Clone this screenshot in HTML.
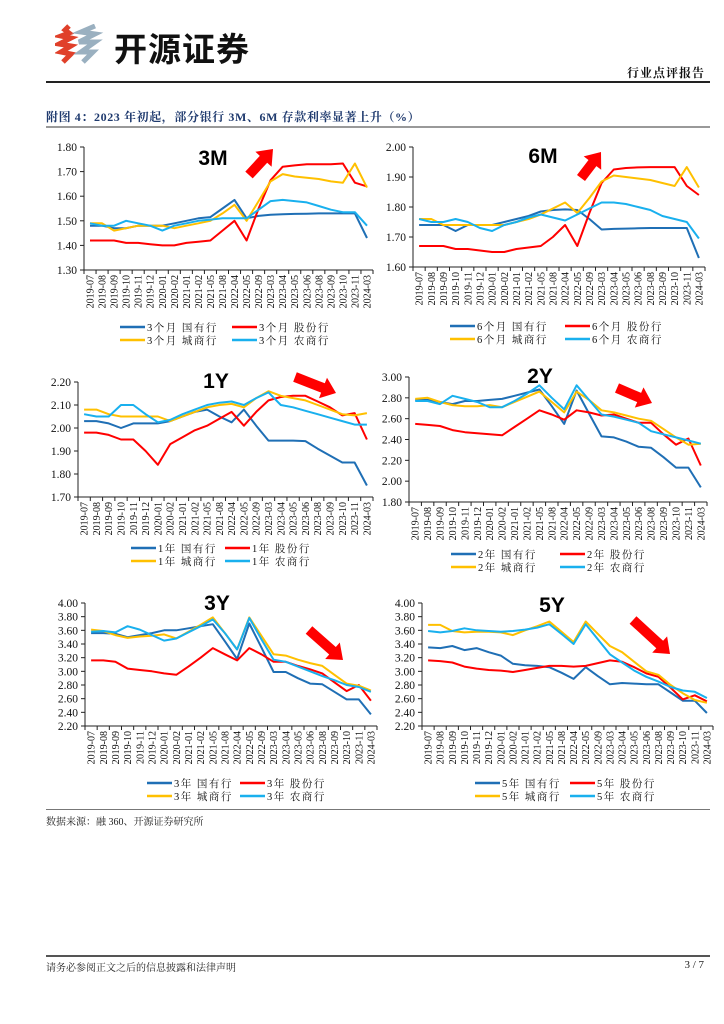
<!DOCTYPE html>
<html><head><meta charset="utf-8">
<style>
body{margin:0;background:#fff;}
#page{position:relative;width:724px;height:1024px;overflow:hidden;background:#fff;font-family:"Liberation Serif","Noto Serif CJK SC",serif;}
.abs{position:absolute;}
</style></head>
<body>
<div id="page">
<svg class="abs" style="left:55px;top:24px" width="50" height="42">
  <path d="M14 2 L10 6 L14 9 L6 12 L16 14 L4 20 L16 22 L6 28 L16 30 L8 38" stroke="#e0402a" stroke-width="5" fill="none"/>
  <path d="M40 2 L26 8 L40 10 L24 18 L40 18 L26 28 L38 28 L28 38" stroke="#9ab0c0" stroke-width="5" fill="none"/>
</svg>
<div class="abs" style="left:114px;top:23px;font:bold 33px 'Noto Sans CJK SC',sans-serif;letter-spacing:1px;color:#111;">开源证券</div>
<div class="abs" style="right:19px;top:64px;font:bold 12px 'Noto Serif CJK SC',serif;color:#111;letter-spacing:1px;">行业点评报告</div>
<div class="abs" style="left:46px;top:81px;width:664px;height:1.5px;background:#222;"></div>
<div class="abs" style="left:46px;top:108px;font:bold 12px 'Liberation Serif','Noto Serif CJK SC',serif;color:#1f3a6e;letter-spacing:0.6px;">附图 4：2023 年初起，部分银行 3M、6M 存款利率显著上升（%）</div>
<div class="abs" style="left:46px;top:126px;width:664px;height:1.5px;background:#999;"></div>
<svg id="charts" class="abs" style="left:0;top:0" width="724" height="840"></svg>
<div class="abs" style="left:46px;top:809px;width:664px;height:1px;background:#777;"></div>
<div class="abs" style="left:46px;top:813px;font:10px 'Liberation Serif','Noto Serif CJK SC',serif;color:#222;">数据来源：融 360、开源证券研究所</div>
<div class="abs" style="left:46px;top:955px;width:664px;height:1.5px;background:#555;"></div>
<div class="abs" style="left:46px;top:959px;font:10px 'Noto Serif CJK SC',serif;color:#222;">请务必参阅正文之后的信息披露和法律声明</div>
<div class="abs" style="right:20px;top:959px;font:11px 'Liberation Serif',serif;color:#222;">3 / 7</div>
</div>
<script>
const categories=["2019-07","2019-08","2019-09","2019-10","2019-11","2019-12","2020-01","2020-02","2021-01","2021-02","2021-05","2021-08","2022-04","2022-05","2022-09","2023-03","2023-04","2023-05","2023-06","2023-08","2023-09","2023-10","2023-11","2024-03"];
const bankTypes=["国有行","股份行","城商行","农商行"];
const seriesColors=["#1f6fb5","#ff0000","#ffc000","#19b0ee"];
const ticks3M=["1.30","1.40","1.50","1.60","1.70","1.80"];
const ticks6M=["1.60","1.70","1.80","1.90","2.00"];
const ticks1Y=["1.70","1.80","1.90","2.00","2.10","2.20"];
const ticks2Y=["1.80","2.00","2.20","2.40","2.60","2.80","3.00"];
const ticks3Y=["2.20","2.40","2.60","2.80","3.00","3.20","3.40","3.60","3.80","4.00"];
const ticks5Y=["2.20","2.40","2.60","2.80","3.00","3.20","3.40","3.60","3.80","4.00"];
const m3Guo=[1.48,1.48,1.47,1.47,1.48,1.48,1.48,1.49,1.50,1.51,1.515,1.55,1.585,1.51,1.52,1.525,1.527,1.528,1.529,1.53,1.53,1.53,1.53,1.43];
const m3Gufen=[1.42,1.42,1.42,1.41,1.41,1.405,1.40,1.40,1.41,1.415,1.42,1.46,1.50,1.42,1.55,1.665,1.72,1.725,1.73,1.73,1.73,1.733,1.655,1.64];
const m3City=[1.49,1.49,1.46,1.47,1.48,1.48,1.48,1.47,1.48,1.49,1.50,1.53,1.565,1.50,1.58,1.66,1.69,1.68,1.675,1.67,1.66,1.655,1.733,1.635];
const m3Rural=[1.49,1.48,1.48,1.50,1.49,1.48,1.46,1.48,1.49,1.50,1.505,1.51,1.51,1.51,1.545,1.58,1.585,1.58,1.575,1.56,1.545,1.535,1.535,1.48];
const m6Guo=[1.74,1.74,1.74,1.72,1.74,1.74,1.74,1.75,1.76,1.77,1.785,1.79,1.792,1.79,1.76,1.725,1.727,1.728,1.729,1.73,1.73,1.73,1.73,1.63];
const m6Gufen=[1.67,1.67,1.67,1.66,1.66,1.655,1.65,1.65,1.66,1.665,1.67,1.70,1.74,1.67,1.78,1.88,1.925,1.93,1.932,1.933,1.933,1.933,1.87,1.84];
const m6City=[1.76,1.76,1.74,1.74,1.74,1.74,1.74,1.74,1.75,1.76,1.775,1.795,1.815,1.78,1.83,1.885,1.905,1.90,1.895,1.89,1.88,1.87,1.933,1.865];
const m6Rural=[1.76,1.75,1.75,1.76,1.75,1.73,1.72,1.74,1.75,1.765,1.775,1.765,1.755,1.775,1.795,1.815,1.815,1.81,1.80,1.79,1.77,1.76,1.75,1.695];
const y1Guo=[2.03,2.03,2.02,2.00,2.02,2.02,2.02,2.03,2.05,2.07,2.08,2.05,2.025,2.08,2.01,1.945,1.945,1.945,1.943,1.91,1.88,1.85,1.85,1.75];
const y1Gufen=[1.98,1.98,1.97,1.95,1.95,1.90,1.84,1.93,1.96,1.99,2.01,2.04,2.07,2.01,2.07,2.12,2.135,2.14,2.14,2.115,2.09,2.055,2.065,1.95];
const y1City=[2.08,2.08,2.06,2.05,2.05,2.05,2.05,2.03,2.05,2.07,2.09,2.10,2.105,2.09,2.13,2.16,2.14,2.13,2.12,2.10,2.08,2.06,2.055,2.065];
const y1Rural=[2.06,2.05,2.05,2.10,2.10,2.06,2.025,2.035,2.06,2.08,2.10,2.11,2.115,2.10,2.13,2.155,2.10,2.09,2.075,2.06,2.045,2.03,2.015,2.015];
const y2Guo=[2.78,2.78,2.76,2.74,2.77,2.77,2.78,2.79,2.82,2.85,2.88,2.72,2.55,2.87,2.65,2.43,2.42,2.38,2.33,2.32,2.23,2.13,2.13,1.94];
const y2Gufen=[2.55,2.54,2.53,2.49,2.47,2.46,2.45,2.44,2.52,2.60,2.68,2.64,2.59,2.68,2.66,2.63,2.64,2.60,2.56,2.56,2.45,2.35,2.41,2.15];
const y2City=[2.79,2.80,2.76,2.73,2.72,2.72,2.73,2.71,2.76,2.81,2.86,2.76,2.66,2.86,2.78,2.68,2.66,2.63,2.60,2.58,2.50,2.42,2.35,2.36];
const y2Rural=[2.77,2.77,2.74,2.82,2.79,2.76,2.71,2.71,2.77,2.84,2.92,2.80,2.69,2.92,2.78,2.64,2.62,2.59,2.56,2.48,2.45,2.42,2.39,2.36];
const y3Guo=[3.56,3.56,3.55,3.50,3.53,3.56,3.60,3.60,3.63,3.66,3.69,3.44,3.18,3.70,3.35,2.99,2.99,2.90,2.82,2.81,2.70,2.59,2.59,2.37];
const y3Gufen=[3.16,3.16,3.14,3.04,3.02,3.00,2.97,2.95,3.07,3.20,3.34,3.25,3.16,3.34,3.25,3.14,3.14,3.08,3.03,2.97,2.84,2.71,2.80,2.57];
const y3City=[3.61,3.59,3.53,3.49,3.51,3.52,3.54,3.48,3.58,3.68,3.79,3.56,3.32,3.79,3.52,3.25,3.23,3.17,3.12,3.08,2.95,2.82,2.79,2.72];
const y3Rural=[3.58,3.59,3.57,3.66,3.61,3.53,3.45,3.48,3.57,3.66,3.76,3.56,3.32,3.78,3.47,3.17,3.14,3.07,3.00,2.93,2.87,2.80,2.77,2.70];
const y5Guo=[3.35,3.34,3.37,3.31,3.34,3.28,3.23,3.11,3.09,3.08,3.06,2.98,2.89,3.06,2.93,2.81,2.83,2.82,2.81,2.81,2.69,2.57,2.57,2.39];
const y5Gufen=[3.16,3.15,3.13,3.07,3.04,3.02,3.01,2.99,3.02,3.05,3.08,3.08,3.07,3.08,3.12,3.16,3.14,3.06,2.97,2.92,2.76,2.59,2.65,2.56];
const y5City=[3.68,3.68,3.59,3.57,3.58,3.58,3.57,3.53,3.60,3.66,3.73,3.58,3.43,3.73,3.55,3.37,3.28,3.14,3.00,2.95,2.80,2.68,2.58,2.54];
const y5Rural=[3.59,3.57,3.59,3.63,3.60,3.59,3.58,3.59,3.61,3.64,3.69,3.55,3.40,3.69,3.47,3.25,3.13,3.01,2.92,2.85,2.77,2.72,2.70,2.61];

const NS="http://www.w3.org/2000/svg";
const svg=document.getElementById('charts');
function mk(tag,attrs,parent){const e=document.createElementNS(NS,tag);for(const k in attrs)e.setAttribute(k,attrs[k]);(parent||svg).appendChild(e);return e;}

function chart(cfg){
  const g=mk('g',{});
  
  
  const L=cfg.left,R=cfg.right,T=cfg.top,B=cfg.bottom;
  const tv=cfg.ticks.map(Number);
  const mn=tv[0],mx=tv[tv.length-1];
  const n=categories.length,step=(R-L)/n;
  const xs=i=>L+step*(i+0.5);
  const ys=v=>B-(v-mn)/(mx-mn)*(B-T);
  const ya=mk('line',{x1:L,y1:T,x2:L,y2:B,stroke:'#222','stroke-width':1},g);
  
  
  cfg.ticks.forEach(t=>{
    const y=ys(Number(t));
    mk('line',{x1:L-4,y1:y,x2:L,y2:y,stroke:'#222','stroke-width':1},g);
    const tx=mk('text',{x:L-7,y:y+4,'text-anchor':'end','font-size':11.5,'font-family':'Liberation Serif, serif',fill:'#111'},g);
    tx.textContent=t;
    
    
  });
  const xa=mk('line',{x1:L,y1:B,x2:R,y2:B,stroke:'#222','stroke-width':1},g);
  
  
  for(let i=0;i<=n;i++){const x=L+step*i;mk('line',{x1:x,y1:B,x2:x,y2:B+4,stroke:'#222','stroke-width':1},g);}
  categories.forEach((c,i)=>{
    const x=xs(i)+3.5,y=B+5;
    const tx=mk('text',{x:x,y:y,transform:`rotate(-90 ${x} ${y})`,'text-anchor':'end','font-size':10,'font-family':'Liberation Serif, serif',fill:'#111'},g);
    tx.textContent=c;
    
    
  });
  cfg.series.forEach((s,k)=>{
    const d=s.map((v,i)=>(i?'L':'M')+xs(i).toFixed(1)+' '+ys(v).toFixed(1)).join(' ');
    const p=mk('path',{d:d,fill:'none',stroke:seriesColors[k],'stroke-width':2,'stroke-linejoin':'round'},g);
    
    
  });
  const tt=mk('text',{x:cfg.tx,y:cfg.ty,'text-anchor':'middle','font-size':21,'font-weight':'bold','font-family':'Liberation Sans, sans-serif',fill:'#000'},g);
  tt.textContent=cfg.label;
  
  
  const [x1,y1,x2,y2]=cfg.arrow;
  const dx=x2-x1,dy=y2-y1,len=Math.hypot(dx,dy),ux=dx/len,uy=dy/len,px=-uy,py=ux;
  const hl=14,sw=5,hw=11;
  const bx=x2-ux*hl,by=y2-uy*hl;
  const pts=[[x1+px*sw,y1+py*sw],[bx+px*sw,by+py*sw],[bx+px*hw,by+py*hw],[x2,y2],[bx-px*hw,by-py*hw],[bx-px*sw,by-py*sw],[x1-px*sw,y1-py*sw]];
  const ar=mk('polygon',{points:pts.map(p=>p[0].toFixed(1)+','+p[1].toFixed(1)).join(' '),fill:'#ff0000'},g);
  
  
  const lx=cfg.legend;
  for(let k=0;k<4;k++){
    const col=k%2,row=Math.floor(k/2);
    const x=lx[col],y=cfg.legY+row*13;
    const lg=mk('g',{},g);
    
    
    mk('line',{x1:x,y1:y,x2:x+25,y2:y,stroke:seriesColors[k],'stroke-width':2.5},lg);
    const tx=mk('text',{x:x+27,y:y+4,'font-size':10.5,'font-family':'Liberation Serif, Noto Serif CJK SC, serif',fill:'#111','letter-spacing':1.5},lg);
    tx.textContent=cfg.prefix+' '+bankTypes[k];
  }
}
chart({name:'chart-3m',label:'3M',prefix:'3个月',left:84,right:373,top:147,bottom:270,ticks:ticks3M,series:[m3Guo,m3Gufen,m3City,m3Rural],tx:213,ty:165,arrow:[249,175,273,149],legend:[120,232],legY:327});
chart({name:'chart-6m',label:'6M',prefix:'6个月',left:413,right:705,top:147,bottom:267,ticks:ticks6M,series:[m6Guo,m6Gufen,m6City,m6Rural],tx:543,ty:163,arrow:[581,178,601,152],legend:[450,565],legY:326});
chart({name:'chart-1y',label:'1Y',prefix:'1年',left:78,right:373,top:382,bottom:497,ticks:ticks1Y,series:[y1Guo,y1Gufen,y1City,y1Rural],tx:216,ty:388,arrow:[295,377,336,393],legend:[131,225],legY:548});
chart({name:'chart-2y',label:'2Y',prefix:'2年',left:409,right:707,top:377,bottom:502,ticks:ticks2Y,series:[y2Guo,y2Gufen,y2City,y2Rural],tx:540,ty:383,arrow:[617,388,652,403],legend:[451,560],legY:554});
chart({name:'chart-3y',label:'3Y',prefix:'3年',left:85,right:377,top:603,bottom:726,ticks:ticks3Y,series:[y3Guo,y3Gufen,y3City,y3Rural],tx:217,ty:610,arrow:[309,630,343,660],legend:[147,240],legY:783});
chart({name:'chart-5y',label:'5Y',prefix:'5年',left:422,right:713,top:603,bottom:726,ticks:ticks5Y,series:[y5Guo,y5Gufen,y5City,y5Rural],tx:552,ty:612,arrow:[633,620,670,654],legend:[475,570],legY:783});
</script>
</body></html>
